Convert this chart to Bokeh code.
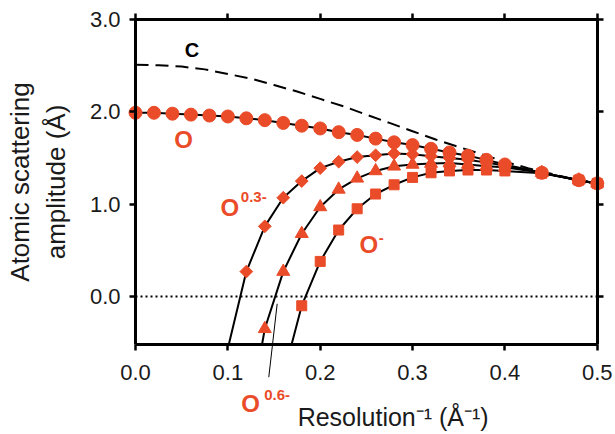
from bokeh.plotting import figure
from bokeh.models import (Range1d, LinearAxis, FixedTicker, PrintfTickFormatter,
                          Label, Arrow)
from bokeh.embed import file_html
from bokeh.resources import INLINE

# ---------------- data ----------------
x_ticks = [0.0, 0.1, 0.2, 0.3, 0.4, 0.5]
y_ticks = [0.0, 1.0, 2.0, 3.0]
x_box = (0.0, 0.5)      # extent of the axes box
y_box = (-0.52, 3.0)

# neutral carbon (dashed, no markers)
c_x = [0.0, 0.025, 0.05, 0.075, 0.1, 0.125, 0.15, 0.175, 0.2, 0.225, 0.25,
       0.275, 0.3, 0.325, 0.35, 0.375, 0.4, 0.425, 0.45, 0.475, 0.5]
c_y = [2.51, 2.505, 2.49, 2.46, 2.41, 2.36, 2.29, 2.22, 2.14, 2.06, 1.97,
       1.88, 1.79, 1.70, 1.62, 1.54, 1.46, 1.39, 1.33, 1.27, 1.22]

# neutral oxygen (circles)
o_x = [0.0, 0.02, 0.04, 0.06, 0.08, 0.10, 0.12, 0.14, 0.16, 0.18, 0.20, 0.22,
       0.24, 0.26, 0.28, 0.30, 0.32, 0.34, 0.36, 0.38, 0.40, 0.44, 0.48, 0.50]
o_y = [1.99, 1.99, 1.98, 1.97, 1.96, 1.95, 1.93, 1.91, 1.88, 1.85, 1.82, 1.78,
       1.75, 1.71, 1.67, 1.64, 1.60, 1.56, 1.525, 1.48, 1.43, 1.34, 1.26, 1.225]

# O 0.3- (diamonds)
o3_x = [0.12, 0.14, 0.16, 0.18, 0.20, 0.22, 0.24, 0.26, 0.28, 0.30, 0.32,
        0.34, 0.36, 0.38, 0.40, 0.44, 0.48, 0.50]
o3_y = [0.27, 0.76, 1.07, 1.25, 1.39, 1.46, 1.51, 1.53, 1.55, 1.54, 1.52,
        1.50, 1.48, 1.45, 1.42, 1.34, 1.26, 1.225]
o3_start = (0.101, -0.52)

# O 0.6- (triangles)
o6_x = [0.14, 0.16, 0.18, 0.20, 0.22, 0.24, 0.26, 0.28, 0.30, 0.32, 0.34,
        0.36, 0.38, 0.40, 0.44, 0.48, 0.50]
o6_y = [-0.35, 0.27, 0.68, 0.97, 1.16, 1.28, 1.36, 1.41, 1.43, 1.44, 1.445,
        1.43, 1.41, 1.40, 1.34, 1.26, 1.225]
o6_start = (0.137, -0.52)

# O- (squares)
om_x = [0.18, 0.20, 0.22, 0.24, 0.26, 0.28, 0.30, 0.32, 0.34, 0.36, 0.38,
        0.40, 0.44, 0.48, 0.50]
om_y = [-0.10, 0.38, 0.72, 0.95, 1.11, 1.21, 1.29, 1.34, 1.36, 1.37, 1.37,
        1.36, 1.335, 1.26, 1.225]
om_start = (0.169, -0.52)

ORANGE = "#EA4B28"
FONT = "Liberation Sans"
TXT = "#1a1a1a"

# The plotting frame covers the whole canvas; the axes are pinned to the
# edges of the data box so that texts outside the box are not clipped.
p = figure(width=612, height=432, output_backend="svg", toolbar_location=None,
           x_range=Range1d(-0.1462, 0.5165), y_range=Range1d(-1.473, 3.206),
           min_border=0)
p.outline_line_color = None
p.grid.visible = False
p.background_fill_color = "white"
p.border_fill_color = "white"

def style_axis(ax, ticks, labels=True):
    ax.ticker = FixedTicker(ticks=ticks)
    ax.formatter = PrintfTickFormatter(format="%.1f" if labels else "")
    ax.axis_line_width = 3
    ax.axis_line_color = "black"
    ax.major_tick_line_width = 2.5
    ax.major_tick_line_color = "black"
    ax.major_tick_out = 6
    ax.major_tick_in = 0
    ax.minor_tick_line_color = None
    ax.major_label_text_font = FONT
    ax.major_label_text_font_size = "22px"
    ax.major_label_text_color = TXT
    ax.major_label_standoff = 10
    if not labels:
        ax.major_label_standoff = 0

xa = p.below[0]
ya = p.left[0]
top_ax = LinearAxis()
right_ax = LinearAxis()
p.add_layout(top_ax, "above")
p.add_layout(right_ax, "right")

style_axis(xa, x_ticks, True)
style_axis(top_ax, x_ticks, False)
style_axis(ya, y_ticks, True)
style_axis(right_ax, y_ticks, False)

xa.fixed_location = y_box[0]
top_ax.fixed_location = y_box[1]
ya.fixed_location = x_box[0]
right_ax.fixed_location = x_box[1]
xa.bounds = x_box
top_ax.bounds = x_box
ya.bounds = y_box
right_ax.bounds = y_box

xa.major_label_standoff = 14
ya.major_label_standoff = 9

ya.axis_label = "Atomic scattering\namplitude (Å)"
ya.axis_label_text_font = FONT
ya.axis_label_text_font_style = "normal"
ya.axis_label_text_font_size = "26px"
ya.axis_label_text_color = TXT
ya.axis_label_standoff = 16

# zero reference (dotted) across the box
p.line([x_box[0], x_box[1]], [0, 0], line_color="black", line_width=2, line_dash="2 3")

# carbon dashed
p.line(c_x, c_y, line_color="black", line_width=2, line_dash="13 7")

# curves
p.line(o_x, o_y, line_color="black", line_width=2)
p.line([o3_start[0]] + o3_x, [o3_start[1]] + o3_y, line_color="black", line_width=2)
p.line([o6_start[0]] + o6_x, [o6_start[1]] + o6_y, line_color="black", line_width=2)
p.line([om_start[0]] + om_x, [om_start[1]] + om_y, line_color="black", line_width=2)

# markers
p.scatter(om_x, om_y, marker="square", size=10, fill_color=ORANGE, line_color=ORANGE)
p.scatter(o6_x, o6_y, marker="triangle", size=13, fill_color=ORANGE, line_color=ORANGE)
p.scatter(o3_x, o3_y, marker="square", angle=0.7854, size=9, fill_color=ORANGE, line_color=ORANGE)
p.scatter(o_x, o_y, marker="circle", size=13, fill_color=ORANGE, line_color=ORANGE)

def lab(x, y, t, size, color=ORANGE, align="center", style="bold"):
    p.add_layout(Label(x=x, y=y, text=t, text_font=FONT, text_font_style=style,
                       text_font_size=size, text_color=color, text_align=align,
                       text_baseline="middle"))

lab(0.061, 2.67, "C", "20px", color="black")
lab(0.052, 1.70, "O", "24px")
lab(0.102, 0.965, "O", "24px")
lab(0.128, 1.08, "0.3-", "15px")
lab(0.2527, 0.563, "O", "24px")
lab(0.266, 0.63, "-", "15px")
lab(0.1245, -1.158, "O", "24px")
lab(0.1534, -1.063, "0.6-", "15px")

# leader line for O 0.6-
p.add_layout(Arrow(end=None, x_start=0.1443, y_start=-0.874, x_end=0.1534, y_end=-0.079,
                   line_color="black", line_width=1))

# x axis title (shifted right as in the reference)
lab(0.279, -1.31, "Resolution⁻¹ (Å⁻¹)", "25px", color=TXT, style="normal")

open("out.html", "w").write(file_html(p, INLINE))
